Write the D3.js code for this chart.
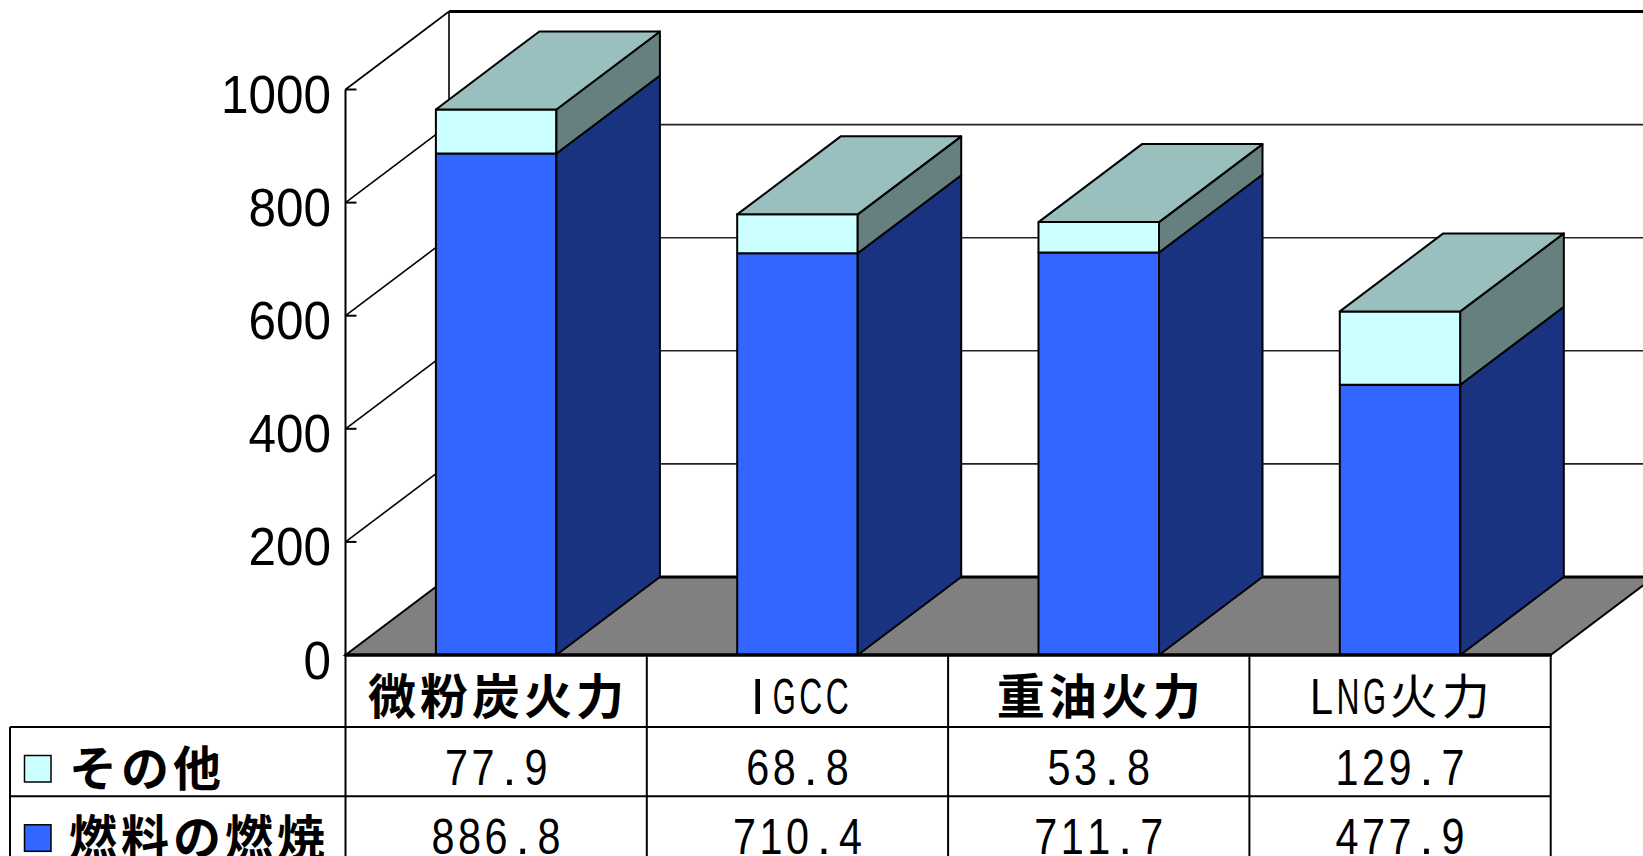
<!DOCTYPE html>
<html>
<head>
<meta charset="utf-8">
<script src="https://cdn.jsdelivr.net/npm/d3@7"></script>
<style>
  html, body { margin: 0; padding: 0; background: #fff; }
  svg { display: block; }
</style>
</head>
<body>
<svg id="chart" width="1643" height="856"></svg>
<script>
// ---- data ----
const categories = ["微粉炭火力", "IGCC", "重油火力", "LNG火力"];
const combustion = [886.8, 710.4, 711.7, 477.9];   // 燃料の燃焼
const other      = [77.9, 68.8, 53.8, 129.7];      // その他
const seriesKeys  = ["combustion", "other"];        // stacking order, bottom to top
const seriesNames = { combustion: "燃料の燃焼", other: "その他" };
const tableOrder  = ["other", "combustion"];        // data-table row order
const yTicks = [0, 200, 400, 600, 800, 1000];

// ---- styles ----
const W = 1643, H = 856;
const plot = { left: 345.5, right: 1550.7, bottom: 655, top: 89.5 };
const depth = { dx: 103.5, dy: -78 };
const colors = {
  combustion: { front: "#3366ff", side: "#1a3380", top: "#264db8" },
  other:      { front: "#ccffff", side: "#668080", top: "#99bfbf" }
};
const headerBold = [true, false, true, false];
const table = { legendLeft: 10, headerBottom: 727, rowH: 69.3 };
const halfW = 26.5, fullW = 52;
const latinFont = "'Liberation Sans', Arial, sans-serif";
const cjkFont = "'Noto Sans CJK JP', 'Noto Sans', sans-serif";

const svg = d3.select("#chart");
svg.append("rect").attr("width", W).attr("height", H).attr("fill", "#fff");

const rows = categories.map((c, i) => ({ category: c, combustion: combustion[i], other: other[i] }));
const stacked = d3.stack().keys(seriesKeys)(rows);

const x = d3.scaleBand().domain(categories)
  .range([plot.left, plot.right]).paddingInner(0.6).paddingOuter(0.3);
const y = d3.scaleLinear().domain([0, 1000]).range([plot.bottom, plot.top]);
const step = x.step(), bw = x.bandwidth();
const colLeft = c => x(c) - x.paddingOuter() * step;

const pts = a => a.map(p => p.join(",")).join(" ");
const back = (px, py) => [px + depth.dx, py + depth.dy];

// ---- walls ----
const y0 = y(0), y1 = y(1000);
svg.append("polygon")
  .attr("points", pts([[plot.left, y1], back(plot.left, y1), back(plot.left, y0), [plot.left, y0]]))
  .attr("fill", "#fff");
svg.append("rect")
  .attr("x", plot.left + depth.dx).attr("y", y1 + depth.dy)
  .attr("width", plot.right - plot.left).attr("height", y0 - y1)
  .attr("fill", "#fff");

const grid = svg.append("g").attr("fill", "none");
yTicks.filter(v => v > 0).forEach(v => {
  const yy = y(v);
  grid.append("line")
    .attr("x1", plot.left).attr("y1", yy)
    .attr("x2", plot.left + depth.dx).attr("y2", yy + depth.dy)
    .attr("stroke", "#000").attr("stroke-width", 1.6);
  grid.append("line")
    .attr("x1", plot.left + depth.dx).attr("y1", yy + depth.dy)
    .attr("x2", plot.right + depth.dx).attr("y2", yy + depth.dy)
    .attr("stroke", v === 1000 ? "#000" : "#222")
    .attr("stroke-width", v === 1000 ? 3 : 1.6);
});
grid.append("line")
  .attr("x1", plot.left + depth.dx).attr("y1", y1 + depth.dy)
  .attr("x2", plot.left + depth.dx).attr("y2", y0 + depth.dy)
  .attr("stroke", "#000").attr("stroke-width", 1.6);

// ---- floor ----
svg.append("polygon")
  .attr("points", pts([[plot.left, y0], back(plot.left, y0), back(plot.right, y0), [plot.right, y0]]))
  .attr("fill", "#808080").attr("stroke", "#000").attr("stroke-width", 2)
  .attr("stroke-linejoin", "miter");
svg.append("line")
  .attr("x1", plot.left + depth.dx).attr("y1", y0 + depth.dy)
  .attr("x2", plot.right + depth.dx).attr("y2", y0 + depth.dy)
  .attr("stroke", "#000").attr("stroke-width", 3);

// ---- value axis ----
const axis = svg.append("g");
axis.append("line")
  .attr("x1", plot.left).attr("x2", plot.left)
  .attr("y1", y1).attr("y2", y0)
  .attr("stroke", "#000").attr("stroke-width", 2);
axis.selectAll("line.tick").data(yTicks).join("line")
  .attr("class", "tick")
  .attr("x1", plot.left).attr("x2", plot.left + 11)
  .attr("y1", d => y(d)).attr("y2", d => y(d))
  .attr("stroke", "#000").attr("stroke-width", 2);
axis.selectAll("text").data(yTicks).join("text")
  .attr("x", plot.left - 14.5)
  .attr("y", d => y(d) + 23.5)
  .attr("text-anchor", "end")
  .attr("font-family", latinFont)
  .attr("font-size", 54)
  .attr("textLength", d => String(d).length * 27.5)
  .attr("lengthAdjust", "spacingAndGlyphs")
  .text(d => d);

// ---- 3D stacked bars ----
const bars = svg.append("g").attr("stroke", "#000").attr("stroke-width", 2)
  .attr("stroke-linejoin", "round");
categories.forEach((c, i) => {
  const xl = x(c), xr = xl + bw;
  const g = bars.append("g");
  stacked.forEach((layer, li) => {
    const [b, t] = layer[i];
    const col = colors[layer.key];
    const yb = y(b), yt = y(t);
    g.append("rect")
      .attr("x", xl).attr("y", yt).attr("width", bw).attr("height", yb - yt)
      .attr("fill", col.front);
    g.append("polygon")
      .attr("points", pts([[xr, yb], [xr, yt], back(xr, yt), back(xr, yb)]))
      .attr("fill", col.side);
    if (li === stacked.length - 1) {
      g.append("polygon")
        .attr("points", pts([[xl, yt], [xr, yt], back(xr, yt), back(xl, yt)]))
        .attr("fill", col.top);
    }
  });
});

// ---- data table ----
const tb = svg.append("g");
const rowTop = k => table.headerBottom + k * table.rowH;
const tableBottom = rowTop(tableOrder.length);
const bounds = categories.map(colLeft).concat([plot.right]);

// cell grid
bounds.forEach(bx => {
  tb.append("line").attr("x1", bx).attr("x2", bx)
    .attr("y1", plot.bottom).attr("y2", tableBottom)
    .attr("stroke", "#000").attr("stroke-width", 2);
});
tb.append("line").attr("x1", table.legendLeft).attr("x2", table.legendLeft)
  .attr("y1", table.headerBottom).attr("y2", tableBottom)
  .attr("stroke", "#000").attr("stroke-width", 2);
d3.range(tableOrder.length + 1).forEach(k => {
  tb.append("line").attr("x1", table.legendLeft).attr("x2", plot.right)
    .attr("y1", rowTop(k)).attr("y2", rowTop(k))
    .attr("stroke", "#000").attr("stroke-width", 2);
});
svg.append("line")
  .attr("x1", plot.left - 1).attr("x2", plot.right + 1)
  .attr("y1", plot.bottom).attr("y2", plot.bottom)
  .attr("stroke", "#000").attr("stroke-width", 3.5);

// fixed-pitch text: half-width and full-width character cells,
// one tspan per character so narrow Latin glyphs fit their half cell
const isHalf = ch => ch.charCodeAt(0) < 0x2000;
function cellText(g, str, cx, baseline, opts = {}) {
  const chars = Array.from(str);
  const widths = chars.map(ch => isHalf(ch) ? halfW : fullW);
  const total = d3.sum(widths);
  let start = opts.anchor === "start" ? cx : cx - total / 2;
  const t = g.append("text")
    .attr("y", baseline)
    .attr("text-anchor", "middle")
    .attr("font-weight", opts.bold ? 700 : 400);
  chars.forEach((ch, k) => {
    const w = widths[k];
    const half = isHalf(ch);
    const span = t.append("tspan")
      .attr("x", (start + w / 2).toFixed(1))
      .attr("font-family", half ? latinFont : cjkFont)
      .attr("font-size", half ? 50 : 48)
      .text(ch);
    if (half) {
      const len = span.node().getComputedTextLength();
      if (len > w - 1) span.attr("textLength", w - 3.5).attr("lengthAdjust", "spacingAndGlyphs");
    }
    start += w;
  });
  return t;
}

// header row: categories
categories.forEach((c, i) => {
  cellText(tb, c, colLeft(c) + step / 2, plot.bottom + 58.5, { bold: headerBold[i] });
});

// series rows
const fmt = d3.format(".1f");
tableOrder.forEach((key, k) => {
  const top = rowTop(k);
  tb.append("rect")
    .attr("x", 24.5).attr("y", top + 28.5)
    .attr("width", 26.5).attr("height", 26.5)
    .attr("fill", colors[key].front)
    .attr("stroke", "#000").attr("stroke-width", 1.5);
  cellText(tb, seriesNames[key], 67, top + 58.5, { bold: true, anchor: "start" });
  const vals = key === "other" ? other : combustion;
  categories.forEach((c, i) => {
    cellText(tb, fmt(vals[i]), colLeft(c) + step / 2, top + 57.5);
  });
});
</script>
</body>
</html>
